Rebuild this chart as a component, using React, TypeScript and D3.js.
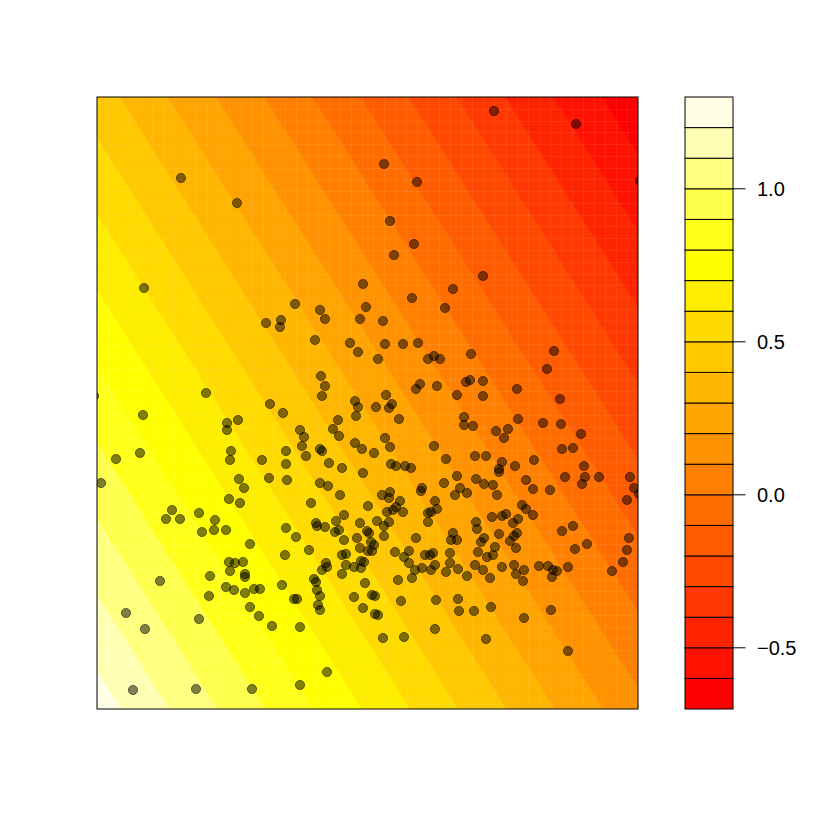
import React, { useMemo } from "react";
import * as d3 from "d3";

// ---- data (x/y in data units; plot domain x 0..5.41, y 0..6.12) ----
const pointX = [
  0.84,1.40,0.47,1.09,0.46,0.43,0.19,0.04,-0.03,1.30,
  1.30,1.41,1.34,1.33,1.42,1.47,1.32,1.43,0.75,0.69,
  0.83,1.02,1.05,1.18,1.17,1.29,0.63,1.13,1.12,1.29,
  1.37,1.48,1.32,1.38,1.46,1.33,1.48,1.48,0.29,0.48,
  1.02,0.36,0.99,1.55,2.03,2.30,1.65,1.72,1.90,1.53,
  1.57,1.63,1.53,1.62,1.75,2.03,1.85,1.97,2.00,1.89,
  1.99,1.88,2.12,2.17,2.19,2.20,2.23,2.21,2.23,2.29,
  2.30,2.25,2.45,2.49,2.45,2.49,2.57,2.19,2.20,2.28,
  2.39,2.38,2.42,2.47,2.47,
  1.98,1.69,1.84,1.83,2.23,2.28,2.18,2.53,2.61,2.63,
  2.66,2.69,2.24,2.28,2.25,1.73,1.86,2.58,2.61,2.59,
  2.41,2.36,2.42,2.03,2.07,2.05,2.23,2.25,2.09,1.89,
  1.89,2.32,2.45,2.58,2.65,2.77,2.66,2.23,2.31,2.43,
  2.85,2.14,2.71,
  2.79,2.92,2.95,2.89,3.02,2.88,2.93,2.94,2.99,3.08,
  3.14,2.93,2.92,3.03,3.06,2.99,2.96,2.90,2.92,2.80,
  2.87,2.70,2.72,2.74,2.77,2.71,2.75,2.64,2.67,2.87,
  2.63,2.60,2.63,2.64,2.68,2.75,2.78,2.66,2.78,2.81,
  2.57,
  3.38,3.40,3.34,3.31,3.31,3.19,2.98,3.07,3.12,3.12,
  3.28,3.33,3.36,3.18,3.25,3.34,3.38,3.01,3.15,3.04,
  3.39,3.38,2.86,3.07,
  3.49,3.61,3.70,3.53,3.53,3.56,3.54,3.60,3.79,3.80,
  3.95,4.05,4.09,4.16,4.21,4.25,4.29,4.02,3.87,3.84,
  3.81,3.98,3.96,3.90,4.20,4.17,4.13,4.19,3.78,3.86,
  3.93,4.05,4.17,4.19,4.27,4.26,3.61,3.62,3.77,3.94,
  4.27,3.89,4.71,4.42,
  3.97,4.79,2.87,3.20,5.43,2.93,3.17,2.97,3.86,3.56,
  3.15,3.48,2.86,2.88,3.06,3.21,2.81,3.31,3.37,3.43,
  3.74,4.57,4.50,3.23,3.19,3.40,3.69,3.73,3.86,3.60,
  3.86,4.20,4.63,3.67,3.67,3.76,4.21,3.99,4.11,4.07,
  3.37,3.49,3.78,3.89,4.05,4.02,4.02,4.18,4.37,3.60,
  3.47,3.79,3.87,3.96,4.00,4.29,4.36,3.25,3.24,3.63,
  3.58,3.70,
  4.46,4.64,4.84,4.65,4.76,4.87,4.68,4.88,5.02,5.33,
  4.85,5.37,5.30,4.53,4.36,4.65,4.76,5.32,4.90,4.78,
  5.30,5.26,5.15,4.51,4.56,4.60,4.71,4.55,4.54,5.42,
];

const pointY = [
  5.31,5.06,4.21,3.16,2.94,2.56,2.50,2.26,3.13,2.86,
  2.79,2.89,2.58,2.49,2.30,2.21,2.10,2.06,1.99,1.90,
  1.90,1.96,1.77,1.89,1.79,1.79,1.28,1.33,1.13,1.22,
  1.19,1.16,1.47,1.46,1.47,1.38,1.35,1.32,0.96,0.80,
  0.90,0.19,0.20,0.20,0.24,0.37,2.49,2.31,2.29,1.65,
  1.20,1.20,1.02,0.93,0.83,0.82,1.24,1.10,1.10,1.81,
  1.72,1.54,1.59,1.30,1.27,1.19,1.13,1.04,0.99,1.46,
  1.42,1.39,1.54,1.55,1.35,1.44,1.42,1.86,1.83,1.82,
  1.88,1.77,1.79,1.69,1.94,
  4.05,3.86,3.89,3.82,3.99,3.90,3.69,3.66,3.57,3.90,
  4.25,4.02,3.33,3.23,3.13,3.05,2.96,3.08,3.02,2.93,
  2.89,2.80,2.73,2.79,2.72,2.63,2.60,2.58,2.53,2.58,
  2.45,2.46,2.41,2.66,2.60,2.56,2.36,2.26,2.23,2.14,
  2.14,2.06,2.03,
  3.02,3.01,3.05,3.14,2.90,2.71,2.62,2.45,2.43,2.43,
  2.41,2.17,2.11,2.08,1.97,2.02,1.99,1.97,1.87,1.88,
  1.83,1.78,1.76,1.67,1.64,1.58,1.58,1.48,1.47,1.73,
  1.86,1.71,1.61,1.41,1.26,1.14,1.13,1.01,0.95,0.94,
  1.12,
  2.08,2.00,1.97,1.96,1.87,1.71,1.57,1.52,1.58,1.46,
  1.54,1.54,1.56,1.39,1.41,1.39,1.44,1.29,1.31,1.08,
  1.09,0.80,0.71,0.72,
  1.37,1.40,1.33,1.56,1.46,1.76,1.69,1.69,1.87,1.80,
  1.92,1.93,1.95,1.86,1.90,2.04,2.00,1.75,1.71,1.67,
  1.57,1.62,1.54,1.52,1.76,1.73,1.68,1.61,1.44,1.39,
  1.31,1.42,1.44,1.35,1.39,1.28,1.10,0.98,0.98,1.02,
  0.91,0.70,0.58,1.43,
  5.98,5.85,5.45,5.27,5.28,4.88,4.65,4.54,4.33,4.20,
  4.11,4.01,3.88,3.65,3.65,3.66,3.50,3.50,3.53,3.50,
  3.55,3.58,3.40,3.25,3.20,3.23,3.27,3.29,3.28,3.14,
  3.13,3.20,3.10,2.92,2.84,2.83,2.90,2.78,2.80,2.71,
  2.63,2.50,2.53,2.53,2.47,2.40,2.37,2.43,2.49,2.33,
  2.26,2.30,2.25,2.24,2.14,2.29,2.20,2.21,2.18,2.21,
  2.14,2.16,
  2.86,2.85,2.75,2.60,2.61,2.43,2.32,2.32,2.32,2.32,
  2.25,2.21,2.09,2.19,1.94,1.78,1.83,1.71,1.65,1.60,
  1.59,1.47,1.38,1.43,1.39,1.38,1.42,1.32,0.99,2.15,
];

// fitted plane z = a + b*x + c*y
const planeIntercept = 1.25;
const planeSlopeX = -0.2075;
const planeSlopeY = -0.1312;

const xDomain = [0, 5.41];
const yDomain = [0, 6.12];
// cells of the underlying evaluation grid (faint seams in the fill)
const gridCellsX = 49;
const gridCellsY = 52;

const levels = [
  -0.7, -0.6, -0.5, -0.4, -0.3, -0.2, -0.1, 0.0, 0.1, 0.2,
  0.3, 0.4, 0.5, 0.6, 0.7, 0.8, 0.9, 1.0, 1.1, 1.2, 1.3,
];
const keyTicks = [-0.5, 0.0, 0.5, 1.0];
const keyTickLabels = ["\u22120.5", "0.0", "0.5", "1.0"];

// R heat.colors(n)
function heatColors(n: number): string[] {
  const j = Math.floor(n / 4);
  const i = n - j;
  const out: string[] = [];
  for (let k = 0; k < i; k++) {
    const h = i > 1 ? k / (i - 1) : 0; // fraction of 60deg
    out.push(d3.rgb(255, Math.round(255 * h), 0).formatHex());
  }
  for (let k = 0; k < j; k++) {
    const from = 1 - 1 / (2 * j);
    const to = 1 / (2 * j);
    const s = j > 1 ? from + ((to - from) * k) / (j - 1) : from;
    out.push(d3.rgb(255, 255, Math.round(255 * (1 - s))).formatHex());
  }
  return out;
}

const W = 830;
const H = 830;
const plot = { left: 97, right: 638, top: 97, bottom: 709 };
const key = { left: 685, right: 733 };

export default function App() {
  const colors = useMemo(() => heatColors(levels.length - 1), []);
  const x = d3.scaleLinear().domain(xDomain).range([plot.left, plot.right]);
  const y = d3.scaleLinear().domain(yDomain).range([plot.bottom, plot.top]);
  const zKey = d3
    .scaleLinear()
    .domain([levels[0], levels[levels.length - 1]])
    .range([plot.bottom, plot.top]);

  const bands = useMemo(() => {
    const nx = 271;
    const ny = 306;
    const values = new Float64Array(nx * ny);
    for (let j = 0; j < ny; j++) {
      const yy = yDomain[1] - ((j + 0.5) / ny) * (yDomain[1] - yDomain[0]);
      for (let i = 0; i < nx; i++) {
        const xx = xDomain[0] + ((i + 0.5) / nx) * (xDomain[1] - xDomain[0]);
        values[j * nx + i] = planeIntercept + planeSlopeX * xx + planeSlopeY * yy;
      }
    }
    const thresholds = levels.slice(0, -1);
    const contours = d3.contours().size([nx, ny]).thresholds(thresholds)(values as any);
    const proj = d3.geoTransform({
      point(px: number, py: number) {
        const dx = xDomain[0] + (px / nx) * (xDomain[1] - xDomain[0]);
        const dy = yDomain[1] - (py / ny) * (yDomain[1] - yDomain[0]);
        (this as any).stream.point(x(dx), y(dy));
      },
    });
    const path = d3.geoPath(proj);
    return contours.map((c, k) => ({ d: path(c as any) || "", fill: colors[k] }));
  }, []);

  const seamX = d3.range(1, gridCellsX).map((k) => xDomain[0] + ((xDomain[1] - xDomain[0]) * k) / gridCellsX);
  const seamY = d3.range(1, gridCellsY).map((k) => yDomain[0] + ((yDomain[1] - yDomain[0]) * k) / gridCellsY);

  return (
    <svg
      width={W}
      height={H}
      style={{ position: "absolute", left: 0, top: 0, background: "#fff" }}
      fontFamily="'Liberation Sans', Arial, Helvetica, sans-serif"
    >
      <defs>
        <clipPath id="plotClip">
          <rect x={plot.left} y={plot.top} width={plot.right - plot.left} height={plot.bottom - plot.top} />
        </clipPath>
      </defs>
      <g clipPath="url(#plotClip)">
        {bands.map((b, k) => (
          <path key={k} d={b.d} fill={b.fill} stroke="none" />
        ))}
        <g stroke="#fff" strokeOpacity={0.07} strokeWidth={1}>
          {seamX.map((v, k) => (
            <line key={"sx" + k} x1={Math.round(x(v)) + 0.5} x2={Math.round(x(v)) + 0.5} y1={plot.top} y2={plot.bottom} />
          ))}
          {seamY.map((v, k) => (
            <line key={"sy" + k} y1={Math.round(y(v)) + 0.5} y2={Math.round(y(v)) + 0.5} x1={plot.left} x2={plot.right} />
          ))}
        </g>
        {pointX.map((px, i) => (
          <circle
            key={i}
            cx={x(px)}
            cy={y(pointY[i])}
            r={4.6}
            fill="rgba(0,0,0,0.5)"
            stroke="rgba(0,0,0,0.5)"
            strokeWidth={1}
          />
        ))}
      </g>
      <rect
        x={plot.left}
        y={plot.top}
        width={plot.right - plot.left}
        height={plot.bottom - plot.top}
        fill="none"
        stroke="#000"
        strokeWidth={1}
      />
      {/* colour key */}
      <g>
        {colors.map((c, k) => (
          <rect
            key={k}
            x={key.left}
            y={zKey(levels[k + 1])}
            width={key.right - key.left}
            height={zKey(levels[k]) - zKey(levels[k + 1])}
            fill={c}
            stroke="#000"
            strokeWidth={1}
          />
        ))}
        {keyTicks.map((t, i) => (
          <g key={t} transform={`translate(0,${zKey(t)})`}>
            <line x1={key.right} x2={key.right + 12.5} stroke="#000" strokeWidth={1} />
            <text x={key.right + 24} dy="0.36em" fontSize={20} fill="#000">
              {keyTickLabels[i]}
            </text>
          </g>
        ))}
      </g>
    </svg>
  );
}
